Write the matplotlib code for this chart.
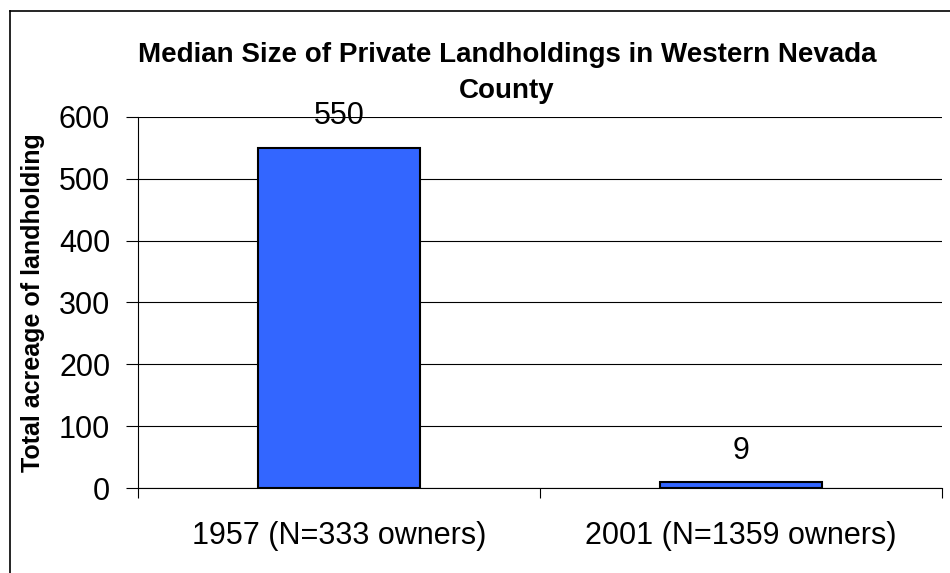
import matplotlib.pyplot as plt
from matplotlib.lines import Line2D

# Median landholding sizes (acres)
categories = ["1957 (N=333 owners)", "2001 (N=1359 owners)"]
median_acres = [550, 9]
y_ticks = [0, 100, 200, 300, 400, 500, 600]

plt.rcParams['font.family'] = ['Liberation Sans', 'DejaVu Sans']

fig = plt.figure(figsize=(9.5, 5.73), dpi=100)
ax = fig.add_axes([138 / 950, 85 / 573, 804 / 950, 371 / 573])

x = list(range(len(categories)))
ax.bar(x, median_acres, width=0.403, color='#3366FF', edgecolor='black',
       linewidth=1.5, zorder=3)

for xi, v in zip(x, median_acres):
    ax.annotate(str(v), (xi, v), xytext=(0, 12), textcoords='offset points',
                ha='center', va='bottom', fontsize=22)

ax.set_xlim(-0.5, len(categories) - 0.5)
ax.set_ylim(0, 600)
ax.set_yticks(y_ticks)
ax.tick_params(axis='y', labelsize=22, direction='out', length=9, width=0.8, pad=11)
ax.yaxis.grid(True, color='black', linewidth=0.8, zorder=0)

# category boundaries get the ticks, labels sit in the middle of each slot
ax.set_xticks([i - 0.5 for i in range(len(categories) + 1)])
ax.set_xticklabels([])
ax.set_xticks(x, minor=True)
ax.set_xticklabels(categories, minor=True, fontsize=22)
ax.tick_params(axis='x', which='major', direction='out', length=7, width=0.8)
ax.tick_params(axis='x', which='minor', length=0, pad=24)

for side in ['top', 'right']:
    ax.spines[side].set_visible(False)
ax.spines['bottom'].set_visible(False)
ax.spines['left'].set_linewidth(0.8)
ax.axhline(0, color='black', linewidth=0.8, zorder=4, clip_on=False)

ax.set_ylabel("Total acreage of landholding", fontsize=18, fontweight='bold', labelpad=10)

fig.text(507 / 950, 1 - 73 / 573, "Median Size of Private Landholdings in Western Nevada\nCounty",
         ha='center', va='center', fontsize=20, fontweight='bold', linespacing=1.45)

# chart frame: only the left and top edges fall inside the image
fig.add_artist(Line2D([9.5 / 950, 9.5 / 950], [0, 1 - 10.5 / 573], color='black', linewidth=1.2))
fig.add_artist(Line2D([9.5 / 950, 1], [1 - 10.5 / 573, 1 - 10.5 / 573], color='black', linewidth=1.2))

fig.savefig("out.png", dpi=100)
